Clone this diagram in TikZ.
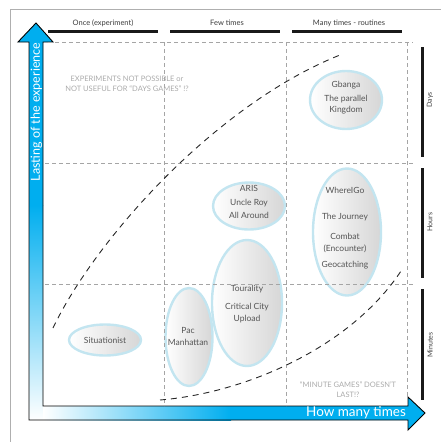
\documentclass[tikz,border=0pt]{standalone}
\usepackage{fontspec}
\setmainfont{Lato}
\usetikzlibrary{shapes.geometric}
\definecolor{axisblue}{RGB}{0,174,239}
\definecolor{rimblue}{RGB}{195,229,240}
\definecolor{gridgray}{RGB}{165,165,165}
\definecolor{framegray}{RGB}{175,175,175}
\definecolor{notegray}{RGB}{170,170,170}
\definecolor{gametext}{RGB}{85,85,85}
\definecolor{headtext}{RGB}{60,60,60}
\tikzset{
  gridline/.style={draw=gridgray, dash pattern=on 4pt off 3pt, line width=0.8pt},
  trendline/.style={draw=black!85, dash pattern=on 6pt off 5pt, line width=0.9pt},
  hbar/.style={draw=black!90, line width=3pt},
  game/.style={ellipse, draw=rimblue, line width=2.4pt, left color=white, right color=gray!32, inner sep=0pt},
  gametxt/.style={text=gametext, font=\fontsize{8.5}{11}\selectfont, align=center, inner sep=0pt},
  colhead/.style={text=headtext, font=\fontsize{7.5}{8}\selectfont, inner sep=0pt},
  rowlabel/.style={text=headtext, font=\fontsize{7}{8}\selectfont, rotate=90, inner sep=0pt},
  notetext/.style={text=notegray, font=\fontsize{7.5}{10}\selectfont, align=center, inner sep=0pt},
  axislabel/.style={text=white, font=\fontsize{13.5}{15}\selectfont, inner sep=0pt},
}
\begin{document}
\begin{tikzpicture}[x=1pt,y=-1pt]
\useasboundingbox (0,0) rectangle (441,442);
% outer frame
\draw[framegray, line width=0.9pt] (10,442) -- (10,9) -- (441,9);

% column header bars and labels
\coordinate (b1a) at (48,31); \coordinate (b1b) at (158,31);
\coordinate (b2a) at (170,31); \coordinate (b2b) at (280,31);
\coordinate (b3a) at (292,31); \coordinate (b3b) at (402,31);
\draw[hbar] (b1a) -- (b1b);
\draw[hbar] (b2a) -- (b2b);
\draw[hbar] (b3a) -- (b3b);
\node[colhead] (h1) at (103,23) {Once (experiment)};
\node[colhead] (h2) at (227,23) {Few times};
\node[colhead] (h3) at (349,23) {Many times - routines};

% row bars and labels
\coordinate (r1a) at (422,47); \coordinate (r1b) at (422,157);
\coordinate (r2a) at (422,168); \coordinate (r2b) at (422,278);
\coordinate (r3a) at (422,289); \coordinate (r3b) at (422,400);
\draw[hbar] (r1a) -- (r1b);
\draw[hbar] (r2a) -- (r2b);
\draw[hbar] (r3a) -- (r3b);
\node[rowlabel] (d1) at (430,100) {Days};
\node[rowlabel] (d2) at (430,222) {Hours};
\node[rowlabel] (d3) at (430,345) {Minutes};

% axis arrows
\fill[axisblue] (29,206) -- (29,42) -- (18,42) -- (36,23) -- (53,42) -- (43,42) -- (43,206) -- cycle;
\shade[top color=axisblue, bottom color=white] (29,205) rectangle (43,420);
\shade[left color=white, right color=axisblue] (43,406) rectangle (231,420);
\fill[axisblue] (230,406) -- (408,406) -- (408,397) -- (425,413) -- (408,430) -- (408,420) -- (230,420) -- cycle;
\draw[black, line width=0.9pt, line join=miter]
  (29,420) -- (29,42) -- (18,42) -- (36,23) -- (53,42) -- (43,42) -- (43,406)
  -- (408,406) -- (408,397) -- (425,413) -- (408,430) -- (408,420) -- cycle;
\node[axislabel, font=\fontsize{12.5}{14}\selectfont, rotate=90] (ylab) at (36.5,112) {Lasting of the experience};
\node[axislabel] (xlab) at (356,413) {How many times};

% games
\node[game, minimum width=72pt, minimum height=58pt] (gbanga) at (346,100) {};
\node[game, minimum width=72pt, minimum height=47pt] (aris) at (249,206) {};
\node[game, minimum width=70pt, minimum height=126pt] (toura) at (247,303) {};
\node[game, minimum width=47pt, minimum height=98pt] (pac) at (189,337) {};
\node[game, minimum width=72pt, minimum height=31pt] (situ) at (105,340) {};
\node[game, minimum width=68pt, minimum height=127pt] (where) at (347,232) {};

\node[gametxt] (gbangaT) at (346,98) {Gbanga\\[3pt]The parallel\\Kingdom};
\node[gametxt] (arisT) at (249,202) {ARIS\\[3pt]Uncle Roy\\[2pt]All Around};
\node[gametxt] (touraT) at (247,304) {Tourality\\[7pt]Critical City\\[1pt]Upload};
\node[gametxt] (pacT) at (188,336) {Pac\\[1pt]Manhattan};
\node[gametxt] (situT) at (105,340) {Situationist};
\node[gametxt] (whereT) at (345,228) {WhereIGo\\[15pt]The Journey\\[9pt]Combat\\[1pt](Encounter)\\[5pt]Geocatching};

% grid
\coordinate (gt1) at (48,42); \coordinate (gt2) at (413,42);
\coordinate (gm1) at (45,163); \coordinate (gm2) at (413,163);
\coordinate (gl1) at (45,284); \coordinate (gl2) at (413,284);
\coordinate (v1a) at (164,42); \coordinate (v1b) at (164,406);
\coordinate (v2a) at (286,42); \coordinate (v2b) at (286,406);
\coordinate (v3a) at (407,42); \coordinate (v3b) at (407,397);
\draw[gridline] (gt1) -- (gt2);
\draw[gridline] (gm1) -- (gm2);
\draw[gridline] (gl1) -- (gl2);
\draw[gridline] (v1a) -- (v1b);
\draw[gridline] (v2a) -- (v2b);
\draw[gridline] (v3a) -- (v3b);

% trend curves
\coordinate (c1s) at (53,328); \coordinate (c1e) at (340,55);
\coordinate (c2s) at (160,400); \coordinate (c2e) at (401,271);
\draw[trendline] (c1s) .. controls (95,240) and (215,105) .. (c1e);
\draw[trendline] (c2s) .. controls (245,393) and (350,348) .. (c2e);

% notes
\node[notetext] (n1) at (127,84) {EXPERIMENTS NOT POSSIBLE or\\NOT USEFUL FOR “DAYS GAMES” !?};
\node[notetext] (n2) at (348,390) {“MINUTE GAMES” DOESN’T\\LAST!?};
\end{tikzpicture}
\end{document}
